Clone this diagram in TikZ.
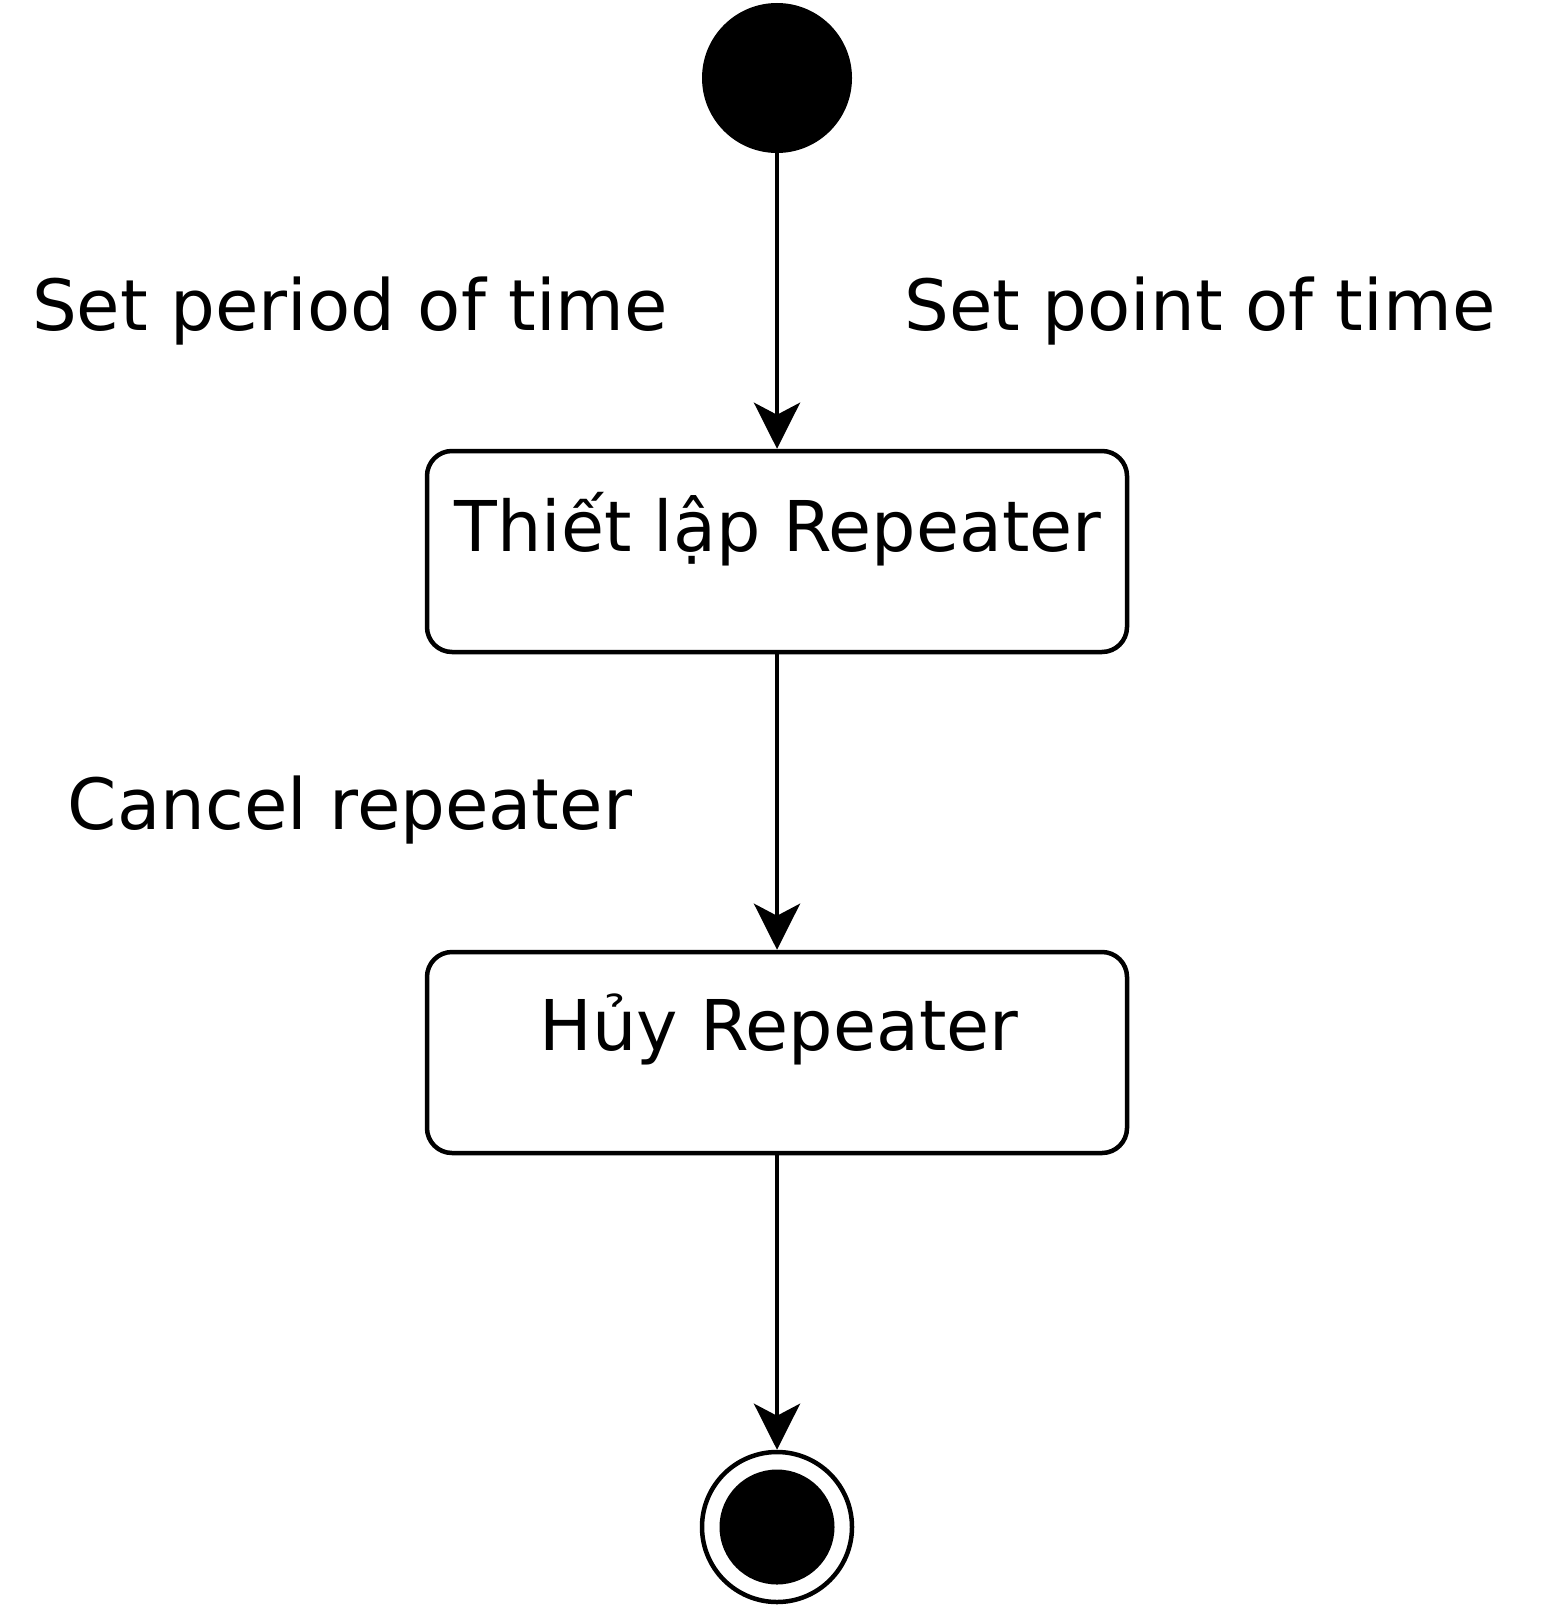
\documentclass[tikz,border=0pt]{standalone}
\usepackage{fontspec}
\setmainfont{DejaVu Sans}
\usetikzlibrary{arrows.meta}
\tikzset{
  lbl/.style={font=\fontsize{70.6}{78}\selectfont, inner sep=0pt, anchor=base},
  boxtext/.style={font=\fontsize{70}{78}\selectfont, inner sep=0pt, anchor=base},
  statebox/.style={draw, line width=4.5pt, rounded corners=25pt, minimum width=700pt, minimum height=201pt, inner sep=0pt},
  conn/.style={line width=4.5pt, -{Stealth[length=46pt, width=46pt, inset=12pt]}},
}
\begin{document}
\begin{tikzpicture}[x=1pt, y=-1pt]
\useasboundingbox (0,0) rectangle (1555,1605);
\node[circle, fill=black, minimum size=150pt, inner sep=0pt] (start) at (777,78) {};
\node[statebox] (b1) at (777,551.5) {};
\node[statebox] (b2) at (777,1052.5) {};
\node[circle, draw, line width=4.5pt, minimum size=150pt, inner sep=0pt] (endo) at (777,1527) {};
\node[circle, fill=black, minimum size=115pt, inner sep=0pt] (endi) at (777,1527) {};
\node[boxtext] (t1) at (778,551) {Thiết lập Repeater};
\node[boxtext] (t2) at (779,1050) {Hủy Repeater};
\node[lbl] (l1) at (350,330) {Set period of time};
\node[lbl] (l2) at (1200,330) {Set point of time};
\node[lbl] (l3) at (350,829) {Cancel repeater};
\draw[conn] (start) -- (b1);
\draw[conn] (b1) -- (b2);
\draw[conn] (b2) -- (endo);
\end{tikzpicture}
\end{document}
